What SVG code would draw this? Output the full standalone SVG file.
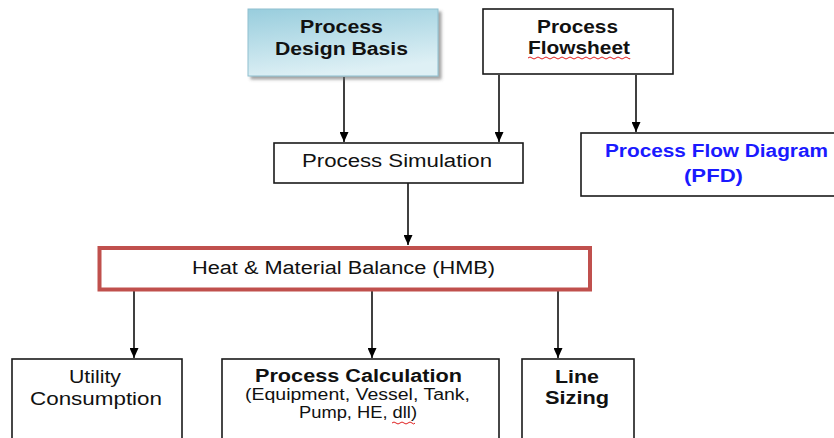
<svg xmlns="http://www.w3.org/2000/svg" width="834" height="438" viewBox="0 0 834 438">
<defs>
<style>
.box{fill:#fff;stroke:#1a1a1a;stroke-width:1.6}
.t{font-family:"Liberation Sans",Arial,sans-serif;font-size:18px;fill:#111;text-anchor:middle}
.b{font-weight:bold}
.s{font-size:16px}
.blue{fill:#1a1aff}
.conn{stroke:#000;stroke-width:1.5;fill:none;marker-end:url(#arr)}
.wave{fill:none;stroke:#e02020;stroke-width:1}
</style>
<marker id="arr" markerUnits="userSpaceOnUse" markerWidth="10" markerHeight="9" viewBox="0 0 10 9" refX="10" refY="4.5" orient="auto">
<path d="M0,0 L10,4.5 L0,9 Z" fill="#000"/>
</marker>
<linearGradient id="g" x1="0" y1="0" x2="0.3" y2="1">
<stop offset="0" stop-color="#98cddd"/>
<stop offset="1" stop-color="#def0f5"/>
</linearGradient>
<filter id="sh" x="-10%" y="-10%" width="130%" height="140%">
<feDropShadow dx="3" dy="3" stdDeviation="1.5" flood-color="#666" flood-opacity="0.6"/>
</filter>
</defs>
<g id="connectors">
<line class="conn" x1="344" y1="77" x2="344" y2="142"/>
<line class="conn" x1="499" y1="75" x2="499" y2="142"/>
<line class="conn" x1="636" y1="75" x2="636" y2="132"/>
<line class="conn" x1="408" y1="183" x2="408" y2="245"/>
<line class="conn" x1="134" y1="291" x2="134" y2="358"/>
<line class="conn" x1="372" y1="291" x2="372" y2="358"/>
<line class="conn" x1="558" y1="291" x2="558" y2="358"/>
</g>
<g id="design-basis">
<rect x="248" y="9" width="190" height="67" fill="url(#g)" stroke="#8fbfcf" stroke-width="1" filter="url(#sh)"/>
<text class="t b" x="341.5" y="33" textLength="83" lengthAdjust="spacingAndGlyphs">Process</text>
<text class="t b" x="341.5" y="55" textLength="133" lengthAdjust="spacingAndGlyphs">Design Basis</text>
</g>
<g id="flowsheet">
<rect class="box" x="483" y="9" width="190" height="65"/>
<text class="t b" x="577.5" y="33" textLength="81" lengthAdjust="spacingAndGlyphs">Process</text>
<text class="t b" x="579" y="54" textLength="102" lengthAdjust="spacingAndGlyphs">Flowsheet</text>
<path class="wave" d="M528,58 q2,-2 4,0 t4,0 t4,0 t4,0 t4,0 t4,0 t4,0 t4,0 t4,0 t4,0 t4,0 t4,0 t4,0 t4,0 t4,0 t4,0 t4,0 t4,0 t4,0 t4,0 t4,0 t4,0 t4,0 t4,0 t4,0 t2,0"/>
</g>
<g id="simulation">
<rect class="box" x="274" y="143" width="249" height="40"/>
<text class="t" x="397" y="167" textLength="190" lengthAdjust="spacingAndGlyphs">Process Simulation</text>
</g>
<g id="pfd">
<rect class="box" x="581" y="133" width="270" height="63"/>
<text class="t b blue" x="716.5" y="157" textLength="223" lengthAdjust="spacingAndGlyphs">Process Flow Diagram</text>
<text class="t b blue" x="713.5" y="182" textLength="59" lengthAdjust="spacingAndGlyphs">(PFD)</text>
</g>
<g id="hmb">
<rect x="99.5" y="248" width="490.5" height="41.5" fill="#fff" stroke="#c0504d" stroke-width="4"/>
<text class="t" x="343.5" y="274" textLength="303" lengthAdjust="spacingAndGlyphs">Heat &amp; Material Balance (HMB)</text>
</g>
<g id="utility">
<rect class="box" x="12" y="359" width="170" height="90"/>
<text class="t" x="95" y="383" textLength="52" lengthAdjust="spacingAndGlyphs">Utility</text>
<text class="t" x="96" y="405" textLength="132" lengthAdjust="spacingAndGlyphs">Consumption</text>
</g>
<g id="calculation">
<rect class="box" x="222" y="359" width="277" height="90"/>
<text class="t b" x="358.5" y="382" textLength="207" lengthAdjust="spacingAndGlyphs">Process Calculation</text>
<text class="t s" x="357.5" y="400" textLength="225" lengthAdjust="spacingAndGlyphs">(Equipment, Vessel, Tank,</text>
<text class="t s" x="358" y="418" textLength="118" lengthAdjust="spacingAndGlyphs">Pump, HE, dll)</text>
<path class="wave" d="M392,423 q2,-2 4,0 t4,0 t4,0 t4,0 t4,0 t3,0"/>
</g>
<g id="line-sizing">
<rect class="box" x="522" y="359" width="112" height="90"/>
<text class="t b" x="577" y="383" textLength="44" lengthAdjust="spacingAndGlyphs">Line</text>
<text class="t b" x="577" y="404" textLength="64" lengthAdjust="spacingAndGlyphs">Sizing</text>
</g>
</svg>
